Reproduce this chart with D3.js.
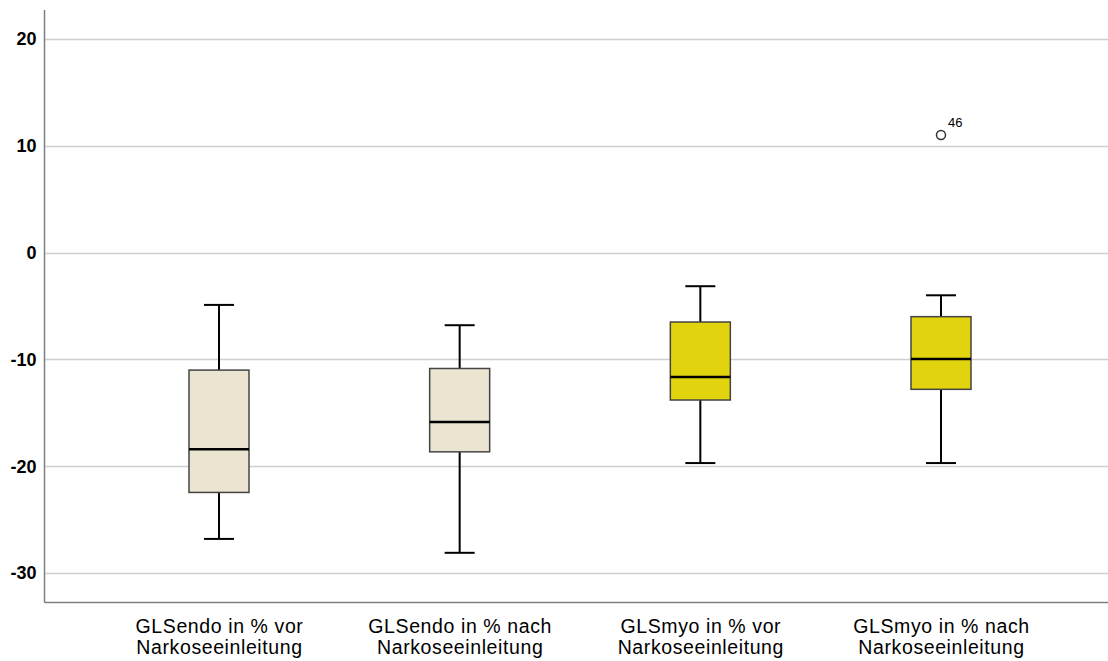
<!DOCTYPE html>
<html><head><meta charset="utf-8">
<script src="https://cdn.jsdelivr.net/npm/d3@7"></script>
<style>body{margin:0;background:#fff}svg{display:block}</style>
</head><body>
<script>
const categories = [
  ["GLSendo in % vor", "Narkoseeinleitung"],
  ["GLSendo in % nach", "Narkoseeinleitung"],
  ["GLSmyo in % vor", "Narkoseeinleitung"],
  ["GLSmyo in % nach", "Narkoseeinleitung"]
];
const whiskerLow  = [-26.8, -28.1, -19.7, -19.7];
const q1          = [-22.45, -18.65, -13.8, -12.8];
const medians     = [-18.4, -15.85, -11.65, -9.95];
const q3          = [-11.0, -10.85, -6.5, -6.0];
const whiskerHigh = [-4.9, -6.8, -3.15, -4.0];
const outliers = [{cat: 3, value: 11.0, label: "46"}];
const yTicks = [-30, -20, -10, 0, 10, 20];
const fills = ["#EAE4D1", "#EAE4D1", "#E2D30F", "#E2D30F"];

const W = 1108, H = 661;
const svg = d3.select("body").append("svg").attr("width", W).attr("height", H);

const axisX = 44.5, plotRight = 1108, plotTop = 10, plotBottom = 602.5;
const y = d3.scaleLinear().domain([-32.75, 22.7]).range([plotBottom, plotTop]);
const idx = categories.map((d, i) => i);
const x = d3.scalePoint().domain(idx).range([219, 941]);

// gridlines
svg.append("g").selectAll("line").data(yTicks).join("line")
  .attr("x1", axisX).attr("x2", plotRight)
  .attr("y1", d => Math.round(y(d)) + 0.5).attr("y2", d => Math.round(y(d)) + 0.5)
  .attr("stroke", "#cfcfcf").attr("stroke-width", 1.5);

// y axis
const yAxis = d3.axisLeft(y).tickValues(yTicks).tickSize(0).tickPadding(8).tickFormat(d => String(d));
const gy = svg.append("g").attr("transform", `translate(${axisX},0)`).call(yAxis);
gy.select(".domain").remove();
gy.selectAll("text").attr("font-family", "Liberation Sans, Arial, sans-serif")
  .attr("font-size", 18).attr("font-weight", "bold").attr("fill", "#000");

// axis lines
svg.append("line").attr("x1", axisX).attr("x2", axisX).attr("y1", plotTop).attr("y2", plotBottom)
  .attr("stroke", "#7f7f7f").attr("stroke-width", 1.5);
svg.append("line").attr("x1", axisX).attr("x2", plotRight).attr("y1", plotBottom).attr("y2", plotBottom)
  .attr("stroke", "#7f7f7f").attr("stroke-width", 1.5);

// x labels
const xAxis = d3.axisBottom(x).tickSize(0).tickFormat(() => "");
const gx = svg.append("g").attr("transform", `translate(0,${plotBottom})`).call(xAxis);
gx.select(".domain").remove();
gx.selectAll(".tick").each(function(i) {
  const t = d3.select(this).append("text")
    .attr("font-family", "Liberation Sans, Arial, sans-serif").attr("font-size", 19.5)
    .attr("letter-spacing", 0.6)
    .attr("fill", "#000").attr("text-anchor", "middle");
  categories[i].forEach((line, k) => {
    t.append("tspan").attr("x", 0).attr("y", 30 + k * 21).text(line);
  });
});

const boxW = 60, capW = 30;
const g = svg.append("g");
idx.forEach(i => {
  const cx = x(i);
  g.append("line").attr("x1", cx).attr("x2", cx).attr("y1", y(whiskerHigh[i])).attr("y2", y(q3[i]))
    .attr("stroke", "#000").attr("stroke-width", 2);
  g.append("line").attr("x1", cx).attr("x2", cx).attr("y1", y(q1[i])).attr("y2", y(whiskerLow[i]))
    .attr("stroke", "#000").attr("stroke-width", 2);
  g.append("line").attr("x1", cx - capW/2).attr("x2", cx + capW/2).attr("y1", y(whiskerHigh[i])).attr("y2", y(whiskerHigh[i]))
    .attr("stroke", "#000").attr("stroke-width", 2);
  g.append("line").attr("x1", cx - capW/2).attr("x2", cx + capW/2).attr("y1", y(whiskerLow[i])).attr("y2", y(whiskerLow[i]))
    .attr("stroke", "#000").attr("stroke-width", 2);
  g.append("rect").attr("x", cx - boxW/2).attr("width", boxW)
    .attr("y", y(q3[i])).attr("height", y(q1[i]) - y(q3[i]))
    .attr("fill", fills[i]).attr("stroke", "#444").attr("stroke-width", 1.5);
  g.append("line").attr("x1", cx - boxW/2).attr("x2", cx + boxW/2).attr("y1", y(medians[i])).attr("y2", y(medians[i]))
    .attr("stroke", "#000").attr("stroke-width", 2.5);
});

outliers.forEach(o => {
  const cx = x(o.cat), cy = y(o.value);
  g.append("circle").attr("cx", cx).attr("cy", cy).attr("r", 4.5)
    .attr("fill", "#fff").attr("stroke", "#333").attr("stroke-width", 1.5);
  g.append("text").attr("x", cx + 7).attr("y", cy - 8).text(o.label)
    .attr("font-family", "Liberation Sans, Arial, sans-serif").attr("font-size", 13).attr("fill", "#000");
});
</script>
</body></html>
